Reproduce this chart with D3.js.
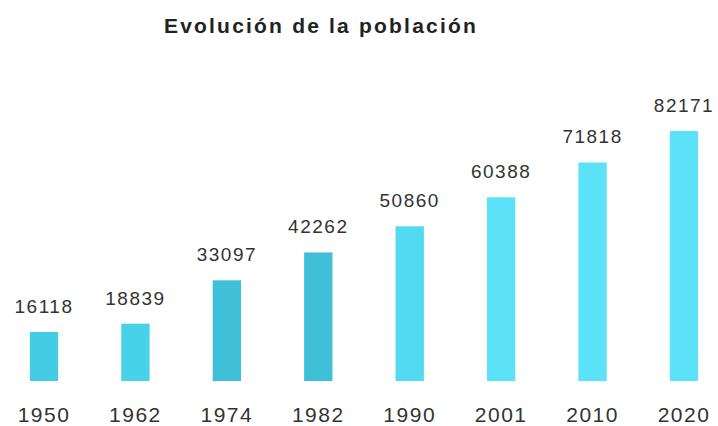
<!DOCTYPE html>
<html><head><meta charset="utf-8">
<script src="https://cdn.jsdelivr.net/npm/d3@7"></script>
<style>body{margin:0;background:#fff}</style>
</head><body>
<script>
const years = ["1950","1962","1974","1982","1990","2001","2010","2020"];
const population = [16118,18839,33097,42262,50860,60388,71818,82171];
const barColors = ["#44CCE4","#48D2EA","#40C0D8","#40C0D8","#52DAF2","#5CE2F8","#5CE2F8","#5CE2F8"];
const title = "Evolución de la población";

const W = 718, H = 426;
const svg = d3.select("body").append("svg").attr("width", W).attr("height", H);

const x = d3.scaleBand().domain(years).range([-1.7, 729.7]).paddingInner(0.69).paddingOuter(0.345);
const y = d3.scaleLinear().domain([0, 82171]).range([381, 131]);

svg.append("text").attr("x", 321).attr("y", 33).attr("text-anchor", "middle")
  .attr("font-family", "Liberation Sans, Arial, sans-serif").attr("font-weight", "bold")
  .attr("font-size", 21).attr("letter-spacing", 2.2).attr("fill", "#222").text(title);

svg.selectAll("rect.bar").data(years).join("rect").attr("class","bar")
  .attr("x", d => x(d)).attr("width", x.bandwidth())
  .attr("y", (d,i) => y(population[i])).attr("height", (d,i) => y(0) - y(population[i]))
  .attr("fill", (d,i) => barColors[i]);

svg.selectAll("text.val").data(years).join("text").attr("class","val")
  .attr("x", d => x(d) + x.bandwidth()/2).attr("y", (d,i) => y(population[i]) - 19)
  .attr("text-anchor","middle").attr("font-family","Liberation Sans, Arial, sans-serif")
  .attr("font-size", 19).attr("letter-spacing", 1.5).attr("fill","#333")
  .text((d,i) => population[i]);

const xAxis = svg.append("g").attr("transform", `translate(0,${y(0)})`)
  .call(d3.axisBottom(x).tickSize(0).tickPadding(0));
xAxis.select(".domain").remove();
xAxis.selectAll("text").attr("dy", null).attr("y", 41)
  .attr("font-family","Liberation Sans, Arial, sans-serif").attr("font-size", 21)
  .attr("letter-spacing", 1.5).attr("fill","#333");
</script>
</body></html>
